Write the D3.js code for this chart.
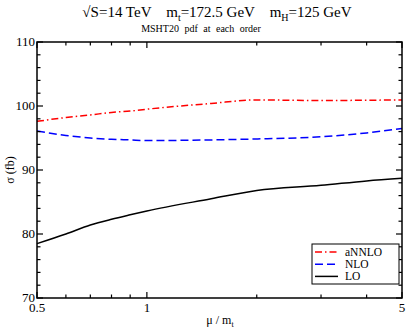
<!DOCTYPE html>
<html lang="en">
<head>
    <meta charset="UTF-8">
    <title>ttH cross section scale dependence</title>
    <script src="https://d3js.org/d3.v7.min.js"></script>
    <style>
        body { margin: 0; background: white; }
        text { font-family: "Liberation Serif", "DejaVu Serif", serif; }
    </style>
</head>
<body>
    <svg id="chart" width="407" height="329"></svg>

    <script>
        // scale ratio mu / m_t
        const muValues = [0.5, 0.6, 0.7, 0.8, 0.9, 1, 1.5, 2, 3, 4, 5];
        // cross sections in fb
        const annloValues = [97.6, 98.2, 98.6, 99.0, 99.2, 99.5, 100.4, 100.95, 100.85, 100.9, 100.95];
        const nloValues   = [96.1, 95.4, 95.0, 94.8, 94.7, 94.6, 94.7, 94.85, 95.2, 95.8, 96.5];
        const loValues    = [78.5, 80.0, 81.4, 82.3, 83.0, 83.6, 85.5, 86.8, 87.6, 88.3, 88.7];

        const seriesNames = ["aNNLO", "NLO", "LO"];
        const xTickLabels = [0.5, 1, 5];
        const xMinorTicks = [0.6, 0.7, 0.8, 0.9, 2, 3, 4];
        const yTickLabels = [70, 80, 90, 100, 110];

        const svg = d3.select("#chart");
        const margin = { top: 42, right: 5, bottom: 31, left: 37 };
        const width = 407 - margin.left - margin.right;
        const height = 329 - margin.top - margin.bottom;

        const x = d3.scaleLog().domain([0.5, 5]).range([margin.left, margin.left + width]);
        const y = d3.scaleLinear().domain([70, 110]).range([margin.top + height, margin.top]);

        const styles = {
            aNNLO: { color: "#ff0000", dash: "7,3,1.5,3", values: annloValues },
            NLO:   { color: "#0000ff", dash: "8,4", values: nloValues },
            LO:    { color: "#000000", dash: null, values: loValues }
        };

        // curves
        const line = d3.line()
            .x(d => x(d[0]))
            .y(d => y(d[1]))
            .curve(d3.curveMonotoneX);

        seriesNames.forEach(name => {
            const s = styles[name];
            svg.append("path")
                .datum(muValues.map((m, i) => [m, s.values[i]]))
                .attr("fill", "none")
                .attr("stroke", s.color)
                .attr("stroke-width", 1.5)
                .attr("stroke-dasharray", s.dash)
                .attr("d", line);
        });

        // frame
        svg.append("rect")
            .attr("x", margin.left)
            .attr("y", margin.top)
            .attr("width", width)
            .attr("height", height)
            .attr("fill", "none")
            .attr("stroke", "black")
            .attr("stroke-width", 1.5);

        // x ticks (inward, bottom + top)
        const xTicks = xTickLabels.map(v => ({ v, len: 6 })).concat(xMinorTicks.map(v => ({ v, len: 3.5 })));
        xTicks.forEach(t => {
            svg.append("line")
                .attr("x1", x(t.v)).attr("x2", x(t.v))
                .attr("y1", y(70)).attr("y2", y(70) - t.len)
                .attr("stroke", "black").attr("stroke-width", 1.2);
            svg.append("line")
                .attr("x1", x(t.v)).attr("x2", x(t.v))
                .attr("y1", y(110)).attr("y2", y(110) + t.len)
                .attr("stroke", "black").attr("stroke-width", 1.2);
        });

        svg.selectAll("text.xlab")
            .data(xTickLabels)
            .join("text")
            .attr("class", "xlab")
            .attr("x", d => x(d))
            .attr("y", y(70) + 14)
            .attr("text-anchor", "middle")
            .attr("font-size", 13)
            .text(d => d);

        // y ticks (inward, left + right)
        d3.range(70, 111, 2).forEach(v => {
            const len = v % 10 === 0 ? 6 : 3.5;
            svg.append("line")
                .attr("x1", x(0.5)).attr("x2", x(0.5) + len)
                .attr("y1", y(v)).attr("y2", y(v))
                .attr("stroke", "black").attr("stroke-width", 1.2);
            svg.append("line")
                .attr("x1", x(5)).attr("x2", x(5) - len)
                .attr("y1", y(v)).attr("y2", y(v))
                .attr("stroke", "black").attr("stroke-width", 1.2);
        });

        svg.selectAll("text.ylab")
            .data(yTickLabels)
            .join("text")
            .attr("class", "ylab")
            .attr("x", x(0.5) - 2)
            .attr("y", d => y(d) + 4)
            .attr("text-anchor", "end")
            .attr("font-size", 13)
            .text(d => d);

        // axis titles
        const xTitle = svg.append("text")
            .attr("x", 220).attr("y", 324)
            .attr("text-anchor", "middle")
            .attr("font-size", 12);
        xTitle.append("tspan").text("μ / m");
        xTitle.append("tspan").attr("font-size", 8).attr("dy", 3).text("t");

        svg.append("text")
            .attr("transform", "translate(14,170) rotate(-90)")
            .attr("text-anchor", "middle")
            .attr("font-size", 12)
            .text("σ (fb)");

        // title lines
        const title = svg.append("text")
            .attr("x", 217).attr("y", 17)
            .attr("text-anchor", "middle")
            .attr("font-size", 15)
            .attr("xml:space", "preserve");
        title.append("tspan").text("√S=14 TeV    m");
        title.append("tspan").attr("font-size", 10).attr("dy", 4).text("t");
        title.append("tspan").attr("dy", -4).text("=172.5 GeV    m");
        title.append("tspan").attr("font-size", 10).attr("dy", 4).text("H");
        title.append("tspan").attr("dy", -4).text("=125 GeV");

        svg.append("text")
            .attr("x", 201).attr("y", 32)
            .attr("text-anchor", "middle")
            .attr("font-size", 10)
            .attr("word-spacing", 3)
            .text("MSHT20 pdf at each order");

        // legend
        const legend = svg.append("g").attr("transform", "translate(312,244)");
        legend.append("rect")
            .attr("width", 87).attr("height", 40)
            .attr("fill", "white")
            .attr("stroke", "black")
            .attr("stroke-width", 1);

        seriesNames.forEach((name, i) => {
            const s = styles[name];
            const ly = 8 + i * 12.2;
            legend.append("line")
                .attr("x1", 3).attr("x2", 26)
                .attr("y1", ly).attr("y2", ly)
                .attr("stroke", s.color)
                .attr("stroke-width", 1.5)
                .attr("stroke-dasharray", s.dash);
            legend.append("text")
                .attr("x", 33).attr("y", ly + 4)
                .attr("font-size", 11.5)
                .text(name);
        });
    </script>
</body>
</html>
